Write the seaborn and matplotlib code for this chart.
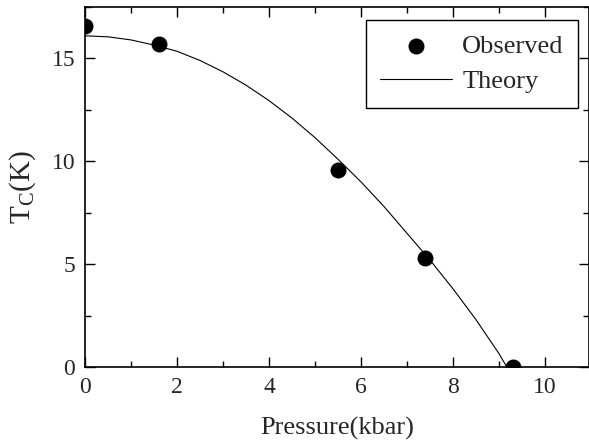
import matplotlib
matplotlib.use("Agg")
import matplotlib.pyplot as plt
import seaborn as sns
from matplotlib.ticker import MultipleLocator

# observed points
p_obs = [0.0, 1.6, 5.5, 7.4, 9.3]
tc_obs = [16.6, 15.7, 9.6, 5.3, 0.0]

# theory curve
p_theory = [0.0, 0.5, 1.0, 1.5, 2.0, 2.5, 3.0, 3.5, 4.0, 4.5, 5.0,
            5.5, 6.0, 6.5, 7.0, 7.5, 8.0, 8.5, 9.0, 9.17]
tc_theory = [16.1, 16.05, 15.9, 15.65, 15.35, 14.9, 14.35, 13.7, 12.95, 12.1, 11.15,
             10.1, 9.0, 7.8, 6.5, 5.2, 3.8, 2.3, 0.65, 0.0]

sns.set_style("ticks")
plt.rcParams['font.family'] = ['Liberation Serif', 'DejaVu Serif']
plt.rcParams['mathtext.fontset'] = 'custom'
plt.rcParams['mathtext.rm'] = 'Liberation Serif'
plt.rcParams['mathtext.it'] = 'Liberation Serif:italic'

fig = plt.figure(figsize=(5.89, 4.43), dpi=100)
ax = fig.add_axes([85 / 589, 1 - 367 / 443, 503.7 / 589, 360 / 443])

sns.lineplot(x=p_theory, y=tc_theory, ax=ax, color='black', linewidth=0.8,
             label='Theory', sort=False)
sns.scatterplot(x=p_obs, y=tc_obs, ax=ax, color='black', s=11.5 ** 2,
                edgecolor='black', linewidth=0, label='Observed', zorder=3)

ax.set_xlim(0, 10.95)
ax.set_ylim(0, 17.5)
ax.xaxis.set_major_locator(MultipleLocator(2))
ax.xaxis.set_minor_locator(MultipleLocator(1))
ax.yaxis.set_major_locator(MultipleLocator(5))
ax.yaxis.set_minor_locator(MultipleLocator(2.5))
ax.tick_params(which='both', direction='in', top=True, right=True,
               width=1.0, color='black', labelsize=17)
ax.tick_params(axis='x', which='major', pad=7)
ax.tick_params(axis='y', which='major', pad=7)
ax.tick_params(which='major', length=7)
ax.tick_params(which='minor', length=4)
for s in ax.spines.values():
    s.set_linewidth(1.2)
    s.set_color('black')

ax.set_xlabel('Pressure(kbar)', fontsize=19, labelpad=14)
ax.set_ylabel(r'T$_\mathrm{C}$(K)', fontsize=21, labelpad=10)

h, l = ax.get_legend_handles_labels()
order = [l.index('Observed'), l.index('Theory')]
leg = ax.legend([h[i] for i in order], [l[i] for i in order],
                loc='upper right', bbox_to_anchor=(0.979, 0.964),
                borderaxespad=0, fontsize=19, frameon=True, fancybox=False,
                handlelength=2.7, labelspacing=0.45, borderpad=0.55,
                handletextpad=0.4, markerscale=1.0)
leg.get_frame().set_edgecolor('black')
leg.get_frame().set_linewidth(1.0)
leg.get_frame().set_alpha(1)

fig.savefig('out.png', dpi=100)
